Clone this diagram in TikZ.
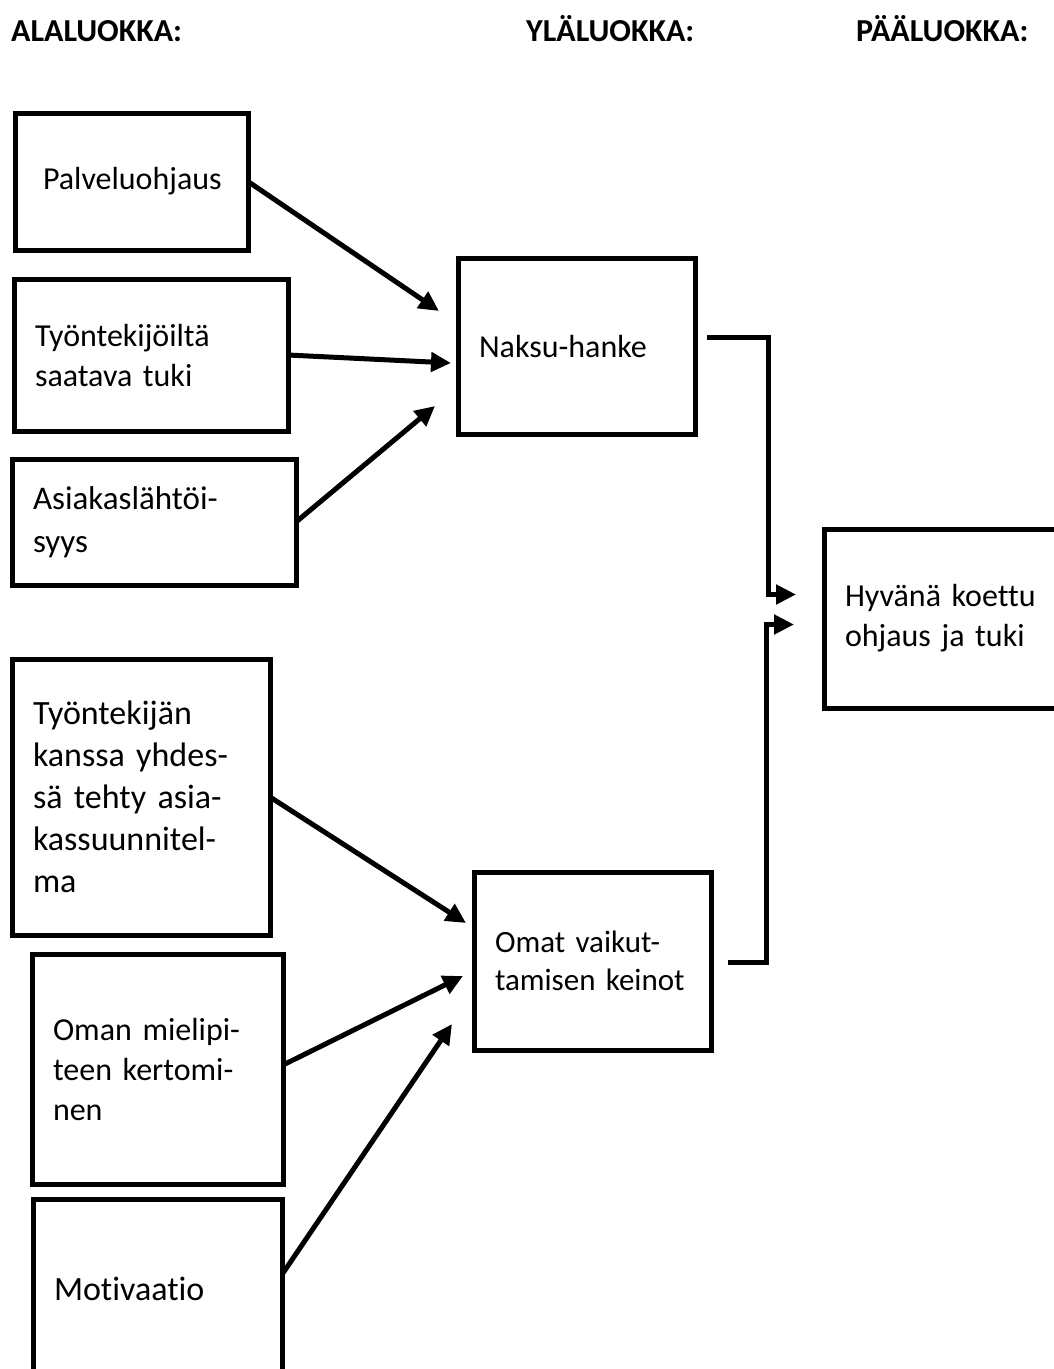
\documentclass[tikz,border=0pt]{standalone}
\usepackage{fontspec}
\setmainfont{Carlito}[Ligatures=NoCommon]
\usepackage{tikz}
\usetikzlibrary{arrows.meta, calc}
\tikzset{
x=1pt, y=-1pt, % one unit is one pixel of the sketch, y grows downwards
box/.style={draw, line width=5pt, rectangle, align=left, inner xsep=21pt, inner ysep=0pt, outer sep=0pt, font=\fontsize{32}{40}\selectfont}, % the boxes of the classes
big/.style={font=\fontsize{34}{42}\selectfont}, % somewhat larger text in some boxes
head/.style={anchor=base west, inner sep=0pt, font=\bfseries\fontsize{32}{38}\selectfont}, % column titles
conn/.style={line width=5pt, -{Triangle[length=20pt, width=19pt]}}, % thick arrows
}
\begin{document}
\begin{tikzpicture}
            \useasboundingbox (0,0) rectangle (1054,1369);
            \clip (0,0) rectangle (1054,1369);

            \node[head] (ala) at (11,41) {ALALUOKKA:};
            \node[head] (yla) at (526,41) {YLÄLUOKKA:};
            \node[head] (paa) at (856,41) {PÄÄLUOKKA:};

            \node[box, minimum height=137pt, text width=177pt, inner xsep=28pt] (palv) at (131.5,181.5) {Palveluohjaus};
            \node[box, minimum height=152pt, text width=232pt] (tyotuki) at (151,355) {Työntekijöiltä\\ saatava tuki};
            \node[box, minimum height=126pt, text width=242pt, font=\fontsize{33}{43}\selectfont] (asiak) at (154,522) {Asiakaslähtöi-\\ syys};
            \node[box, minimum height=176pt, text width=195pt] (naksu) at (576.5,346) {Naksu-hanke};
            \node[box, minimum height=179pt, text width=204pt] (hyva) at (947,618.5) {Hyvänä koettu\\ ohjaus ja tuki};
            \node[box, big, minimum height=276pt, text width=216pt] (suunn) at (141,797) {Työntekijän\\ kanssa yhdes-\\ sä tehty asia-\\ kassuunnitel-\\ ma};
            \node[box, minimum height=178pt, text width=195pt, font=\fontsize{31}{38}\selectfont] (omat) at (592.5,961) {Omat vaikut-\\ tamisen keinot};
            \node[box, minimum height=230pt, text width=209pt] (mieli) at (157.5,1069) {Oman mielipi-\\ teen kertomi-\\ nen};
            \node[box, big, minimum height=180pt, text width=207pt] (motiv) at (157.5,1289) {Motivaatio};

            \coordinate (inA) at ($(hyva.west)+(-28,-24)$);
            \coordinate (inB) at ($(hyva.west)+(-30,6)$);

            \draw[conn] (palv.east) -- ($(naksu.west)+(-19,-35)$);
            \draw[conn] (tyotuki.east) -- ($(naksu.west)+(-7,17)$);
            \draw[conn] (asiak.east) -- ($(naksu.west)+(-23,60)$);
            \draw[conn] (suunn.east) -- ($(omat.west)+(-8,-38)$);
            \draw[conn] ($(mieli.east)+(2,-5)$) -- ($(omat.west)+(-11,15)$);
            \draw[conn] ($(motiv.east)+(1,-16)$) -- ($(omat.west)+(-22,63)$);

            \draw[conn] ($(naksu.east)+(12,-9)$) -| ($(inA)+(-28,0)$) -- (inA);
            \draw[conn] ($(omat.east)+(17,1)$) -| ($(inB)+(-28,0)$) -- (inB);
\end{tikzpicture}
\end{document}
